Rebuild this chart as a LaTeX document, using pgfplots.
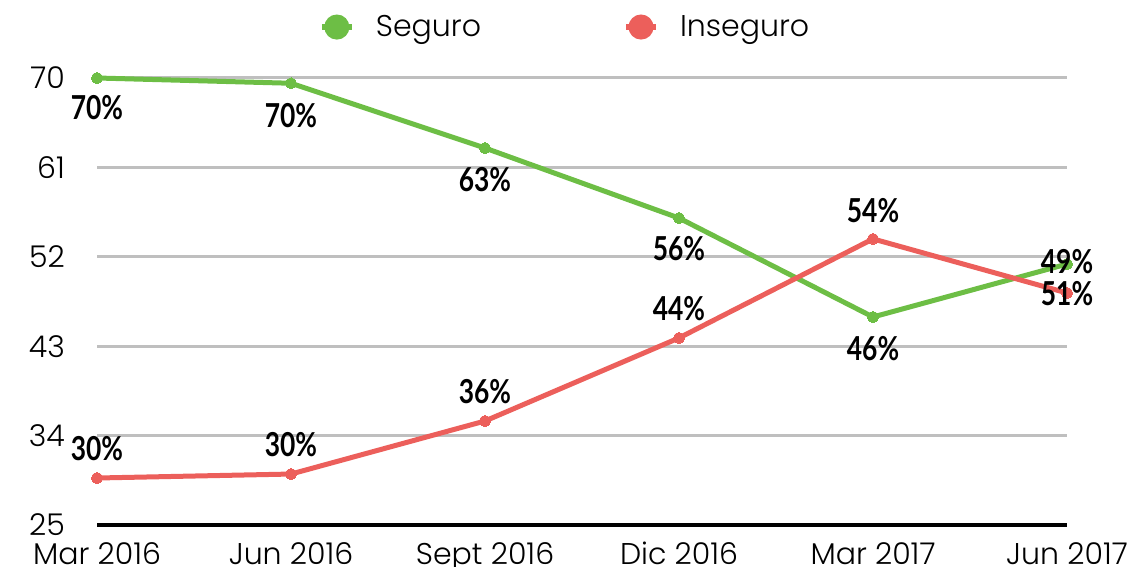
\documentclass[border=0pt]{standalone}
\usepackage{pgfplots}
\pgfplotsset{compat=1.18}
\usepackage{pgfplotstable}
\usepackage{fontspec}
\setmainfont{Poppins Light}
\newfontfamily\labfont[FakeStretch=0.8]{Lato Bold}
\definecolor{cgreen}{HTML}{6DBE45}
\definecolor{cred}{HTML}{EC5F5B}
\definecolor{cgrid}{HTML}{BFBFBF}
\def\dy{0}
\pgfplotstableread{
x y lab dy
0 70.00 70 -30
1 69.47 70 -32
2 62.95 63 -32
3 55.90 56 -31
4 45.94 46 -32
5 51.27 49 2
}\seguro
\pgfplotstableread{
x y lab dy
0 29.73 30 29
1 30.13 30 29
2 35.47 36 29
3 43.83 44 29
4 53.80 54 28
5 48.36 51 -1
}\inseguro
\pgfplotsset{
  vlabels/.style={
    nodes near coords={\labfont\fontsize{33bp}{36bp}\selectfont\pgfplotspointmeta\%},
    point meta=explicit symbolic,
    visualization depends on={\thisrow{dy}\as\dy},
    every node near coord/.append style={anchor=center, text=black, inner sep=0pt, yshift=\dy bp},
  }
}
\begin{document}
\begin{tikzpicture}
\useasboundingbox (0,0) rectangle (1127bp,567bp);
\begin{axis}[
  at={(97bp,42bp)}, anchor=south west,
  scale only axis, width=970bp, height=447bp,
  xmin=0, xmax=5, ymin=25, ymax=70,
  ytick={25,34,43,52,61,70},
  xtick={0,1,2,3,4,5},
  xticklabels={Mar 2016, Jun 2016, Sept 2016, Dic 2016, Mar 2017, Jun 2017},
  axis line style={draw=none},
  major tick length=0pt,
  ymajorgrids, grid style={cgrid, line width=3bp},
  clip=false,
  /pgf/number format/assume math mode=true,
  tick label style={font=\fontsize{30bp}{34bp}\selectfont, inner sep=0pt},
  yticklabel style={anchor=east, xshift=-32bp},
  xticklabel style={anchor=north, yshift=-17bp},
  legend style={at={(0.4825,1.114)}, anchor=center, draw=none, fill=none,
    legend columns=2, font=\fontsize{30bp}{34bp}\selectfont,
    /tikz/every even column/.append style={column sep=140bp},
    inner sep=0pt, row sep=0pt},
  legend cell align=left,
  legend image code/.code={
    \draw[line width=6bp] (-2bp,0bp) -- (28bp,0bp);
    \fill (13bp,0bp) circle (10bp);
  },
]
\addplot[black, line width=3bp, forget plot] coordinates {(0,25) (5,25)};
\addplot[cgreen, line width=5bp, mark=*, mark size=5.5bp, mark options={fill=cgreen, draw=cgreen, line width=0pt}, vlabels]
  table[x=x, y=y, meta=lab] {\seguro};
\addlegendentry{\hspace{19bp}Seguro}
\addplot[cred, line width=5bp, mark=*, mark size=5.5bp, mark options={fill=cred, draw=cred, line width=0pt}, vlabels]
  table[x=x, y=y, meta=lab] {\inseguro};
\addlegendentry{\hspace{19bp}Inseguro}
\end{axis}
\end{tikzpicture}
\end{document}
